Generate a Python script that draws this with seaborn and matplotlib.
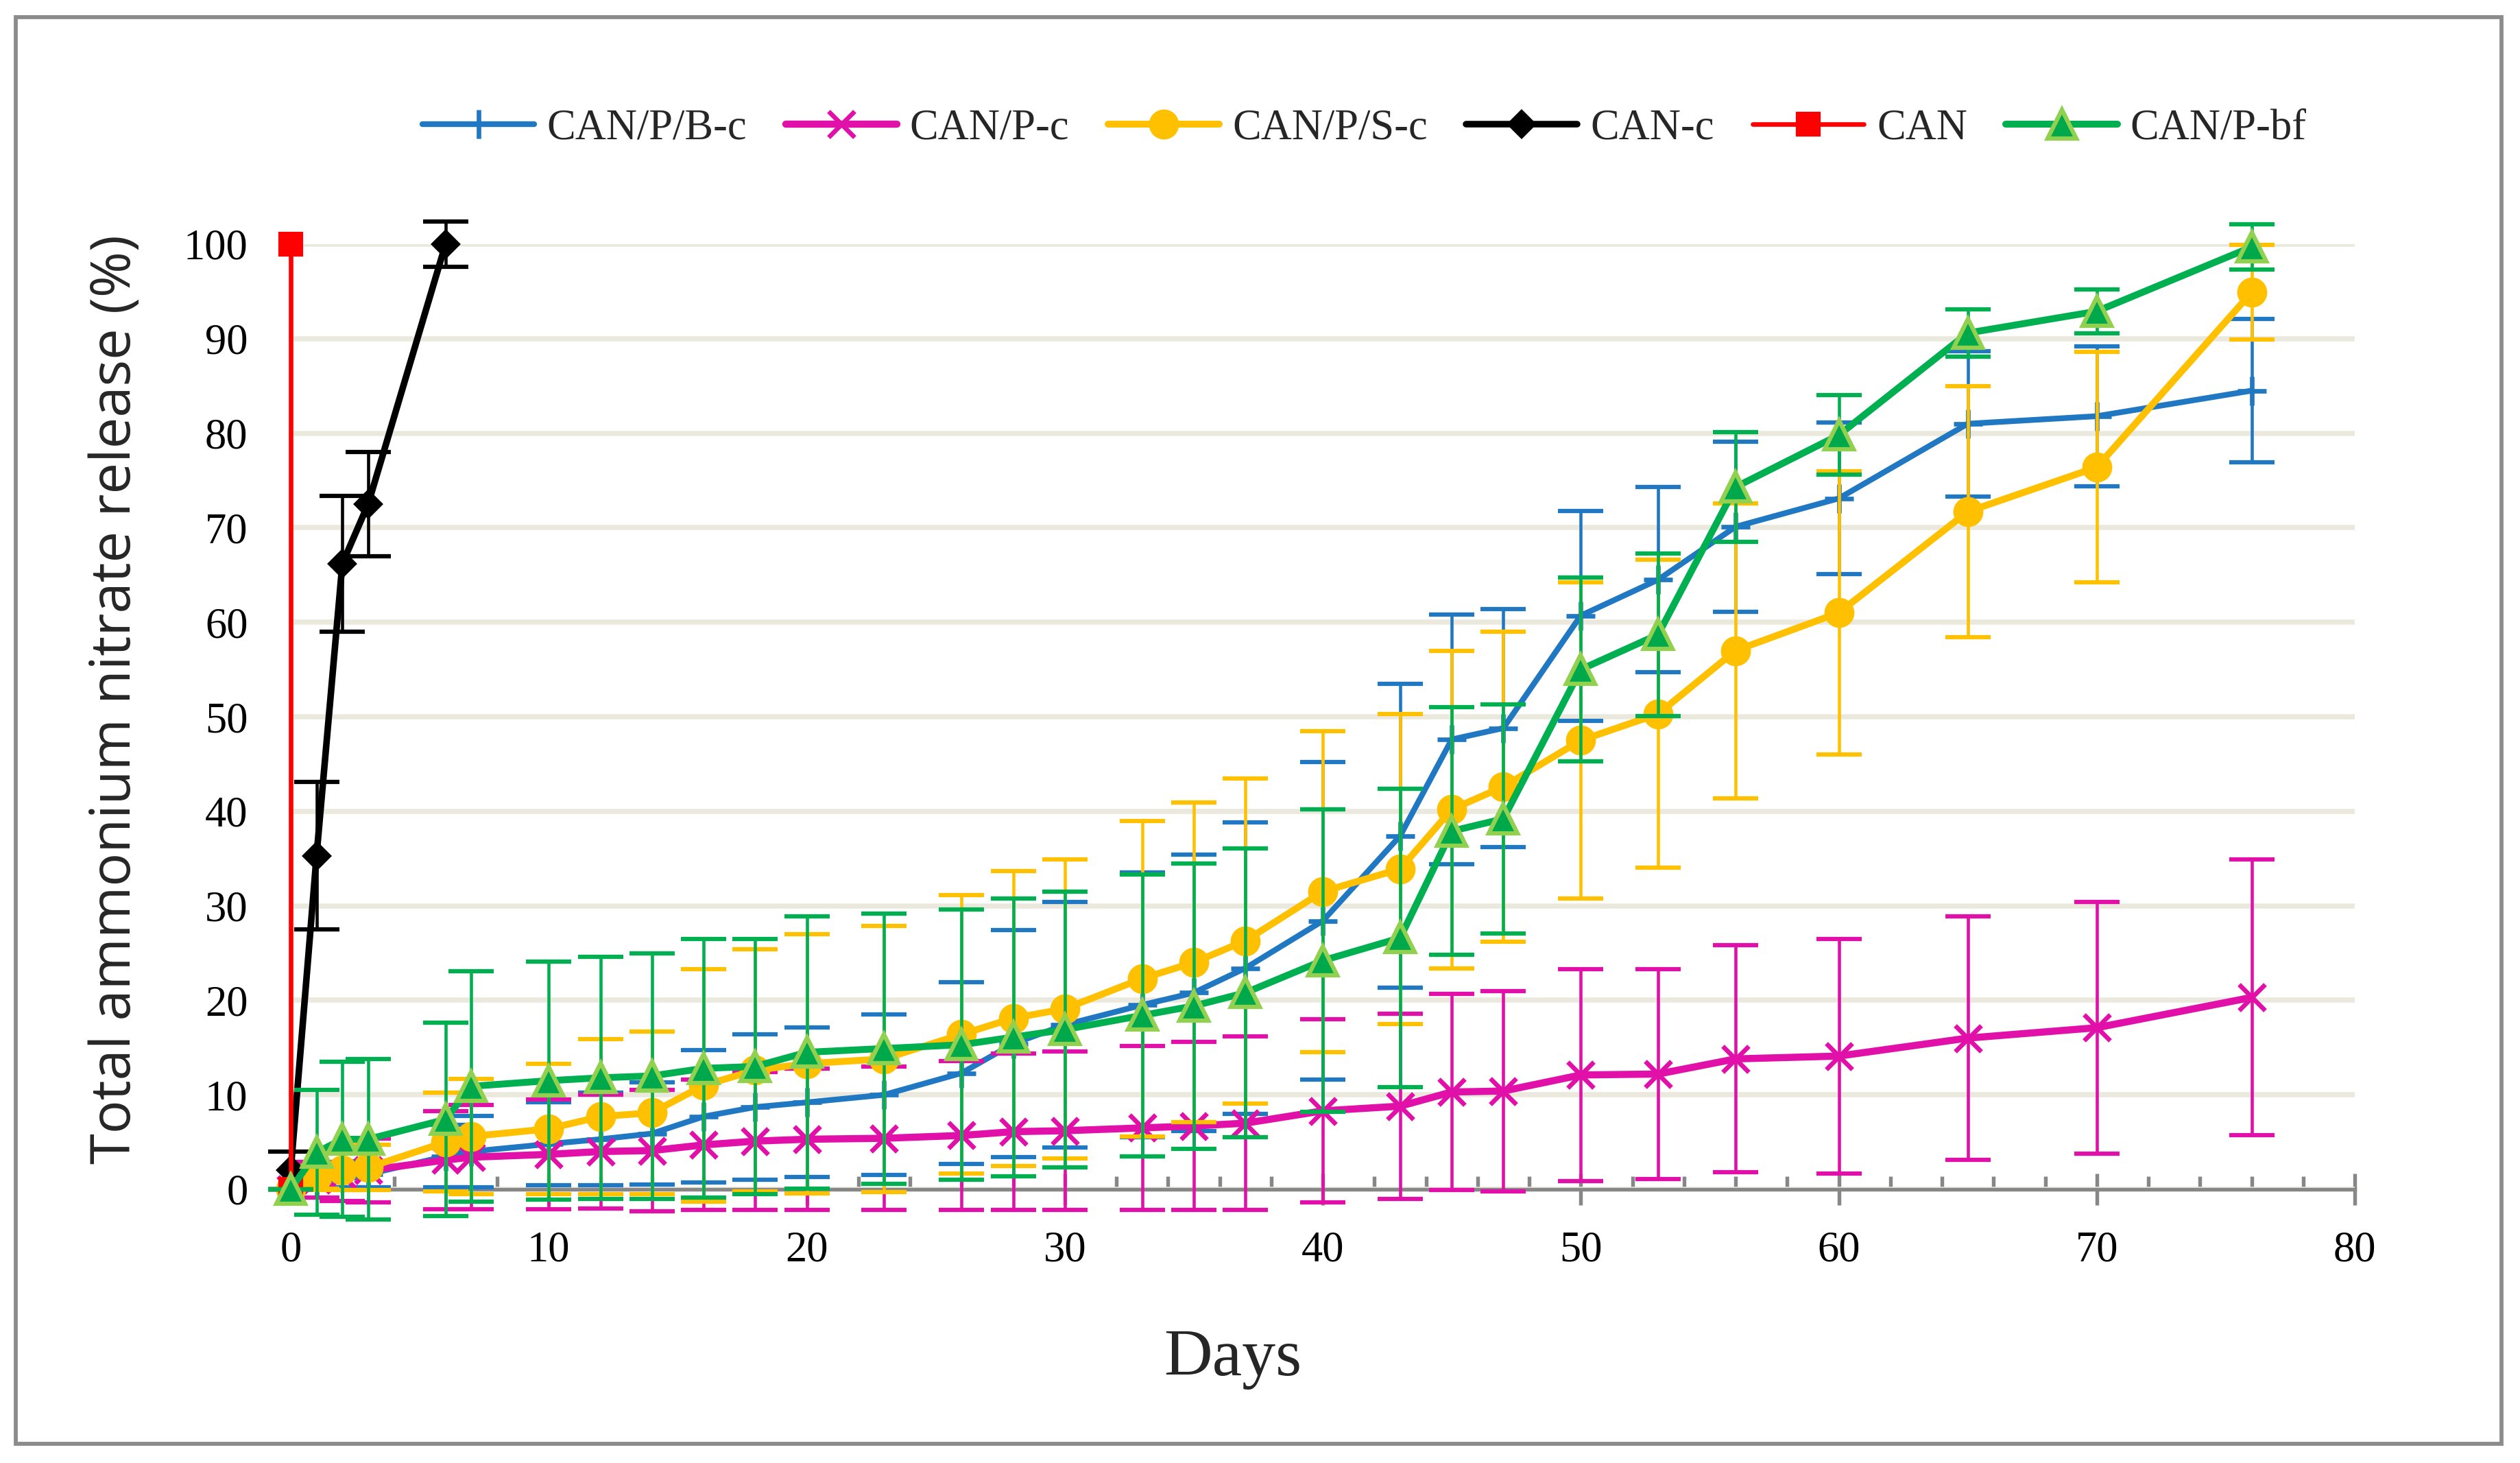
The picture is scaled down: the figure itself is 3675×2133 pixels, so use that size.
import numpy as np
import pandas as pd
import matplotlib
matplotlib.use("Agg")
import matplotlib.pyplot as plt
import seaborn as sns
from matplotlib.patches import Rectangle
from matplotlib.ticker import MultipleLocator

# ---------------- data ----------------
days = [0, 1, 2, 3, 6, 7, 10, 12, 14, 16, 18, 20, 23, 26, 28, 30, 33, 35, 37,
        40, 43, 45, 47, 50, 53, 56, 60, 65, 70, 76]

pbc_val = [0, 0.8, 1.2, 1.6, 3.5, 4.0, 4.8, 5.3, 5.9, 7.7, 8.7, 9.2, 10.0, 12.3,
           15.4, 17.4, 19.5, 20.8, 23.4, 28.4, 37.4, 47.6, 48.8, 60.7, 64.5,
           70.1, 73.1, 81.0, 81.8, 84.5]
pbc_err = [0, 0.8, 1.0, 1.4, 3.3, 3.8, 4.4, 4.9, 5.4, 7.0, 7.7, 7.9, 8.5, 9.6,
           12.0, 13.0, 14.0, 14.6, 15.4, 16.8, 16.1, 13.2, 12.6, 11.1, 9.8,
           9.0, 8.0, 7.7, 7.4, 7.6]

pc_val = [0, 1.0, 1.5, 2.0, 3.1, 3.4, 3.7, 4.0, 4.1, 4.7, 5.1, 5.3, 5.4, 5.7,
          6.1, 6.2, 6.5, 6.7, 7.0, 8.3, 8.8, 10.3, 10.4, 12.1, 12.2, 13.8,
          14.1, 16.0, 17.1, 20.3]
pc_err = [0, 1.9, 2.7, 3.4, 5.2, 5.5, 5.8, 6.0, 6.4, 6.9, 7.3, 7.5, 7.6, 7.9,
          8.3, 8.4, 8.7, 8.9, 9.2, 9.7, 9.8, 10.4, 10.6, 11.2, 11.1, 12.0,
          12.4, 12.9, 13.3, 14.6]

psc_val = [0, 1.3, 2.0, 2.3, 5.0, 5.6, 6.4, 7.7, 8.1, 11.0, 12.6, 13.3, 13.8,
           16.4, 18.1, 19.1, 22.3, 24.0, 26.3, 31.5, 33.9, 40.2, 42.6, 47.5,
           50.3, 57.0, 61.0, 71.7, 76.4, 94.9]
psc_err = [0, 1.2, 2.1, 2.4, 5.2, 6.1, 6.9, 8.2, 8.6, 12.3, 12.8, 13.7, 14.1,
           14.7, 15.6, 15.8, 16.7, 16.9, 17.2, 17.0, 16.4, 16.8, 16.4, 16.7,
           16.3, 15.6, 15.0, 13.3, 12.2, 5.0]

canc_days = [0, 1, 2, 3, 6]
canc_val = [2.0, 35.3, 66.2, 72.5, 100.0]
canc_err = [2.0, 7.8, 7.2, 5.5, 2.4]

can_days = [0, 0]
can_val = [0, 100]

pbf_val = [0, 3.9, 5.3, 5.3, 7.4, 10.9, 11.5, 11.8, 12.0, 12.8, 13.0, 14.5,
           14.9, 15.3, 16.1, 16.9, 18.4, 19.4, 20.8, 24.2, 26.6, 37.9, 39.2,
           55.0, 58.7, 74.3, 79.8, 90.6, 92.9, 99.7]
pbf_err = [0, 6.6, 8.2, 8.5, 10.2, 12.2, 12.6, 12.8, 13.0, 13.7, 13.5, 14.4,
           14.3, 14.3, 14.7, 14.6, 14.9, 15.1, 15.3, 16.0, 15.8, 13.1, 12.1,
           9.7, 8.6, 5.8, 4.2, 2.5, 2.3, 2.4]

labels = ["CAN/P/B-c", "CAN/P-c", "CAN/P/S-c", "CAN-c", "CAN", "CAN/P-bf"]
x_ticks = [0, 10, 20, 30, 40, 50, 60, 70, 80]
y_ticks = [0, 10, 20, 30, 40, 50, 60, 70, 80, 90, 100]

# ---------------- style ----------------
sns.set_theme(style="white")
plt.rcParams["font.family"] = ["Liberation Serif", "DejaVu Serif"]

W, H = 3675, 2133
fig = plt.figure(figsize=(W / 300, H / 300), dpi=300)
x0, x1, y0, y1 = 424, 3434, 356, 1734
ax = fig.add_axes([x0 / W, 1 - y1 / H, (x1 - x0) / W, (y1 - y0) / H])

series = [
    dict(label=labels[0], x=days, y=pbc_val, e=pbc_err, c="#1F78C1", m="+",
         ms=10, lw=2.0, mfc="#1F78C1", mec="#1F78C1", mew=1.6),
    dict(label=labels[1], x=days, y=pc_val, e=pc_err, c="#E010A8", m="x",
         ms=9, lw=2.5, mfc="#E010A8", mec="#E010A8", mew=1.6),
    dict(label=labels[2], x=days, y=psc_val, e=psc_err, c="#FFC000", m="o",
         ms=9.5, lw=2.4, mfc="#FFC000", mec="#FFC000", mew=1.0),
    dict(label=labels[3], x=canc_days, y=canc_val, e=canc_err, c="#000000",
         m="D", ms=6.5, lw=2.3, mfc="#000000", mec="#000000", mew=1.0),
    dict(label=labels[4], x=can_days, y=can_val, e=None, c="#FF0000", m="s",
         ms=7.5, lw=1.6, mfc="#FF0000", mec="#FF0000", mew=1.0),
    dict(label=labels[5], x=days, y=pbf_val, e=pbf_err, c="#00B050", m="^",
         ms=10, lw=2.4, mfc="#00A84C", mec="#92D050", mew=1.5),
]

for i, s in enumerate(series):
    z = 3 + i
    df = pd.DataFrame({"Days": s["x"], "Release": s["y"]})
    if s["e"] is not None:
        cont = ax.errorbar(s["x"], s["y"], yerr=s["e"], fmt="none",
                           ecolor=s["c"], elinewidth=1.1, capsize=8,
                           capthick=1.5, zorder=z)
        for art in cont.get_children():
            art.set_clip_on(False)
    sns.lineplot(data=df, x="Days", y="Release", estimator=None, sort=False,
                 ax=ax, color=s["c"], lw=s["lw"], marker=s["m"],
                 markersize=s["ms"], markerfacecolor=s["mfc"],
                 markeredgecolor=s["mec"], markeredgewidth=s["mew"],
                 label=s["label"], zorder=z + 0.5, clip_on=False)

ax.set_xlim(0, 80)
ax.set_ylim(0, 100)
ax.set_xticks(x_ticks)
ax.set_yticks(y_ticks)
ax.xaxis.set_minor_locator(MultipleLocator(2))
ax.set_xlabel("")
ax.set_ylabel("")

ax.yaxis.grid(True, color="#EBE9DD", lw=1.8)
ax.xaxis.grid(False)
ax.set_axisbelow(True)
for sp in ["left", "top", "right"]:
    ax.spines[sp].set_visible(False)
ax.spines["bottom"].set_color("#878787")
ax.spines["bottom"].set_linewidth(1.3)
ax.spines["bottom"].set_zorder(2.5)

ax.tick_params(axis="x", which="major", direction="inout", length=11,
               width=1.3, color="#878787", pad=9, labelsize=15,
               labelcolor="black", bottom=True)
ax.tick_params(axis="x", which="minor", direction="in", length=4.5,
               width=1.3, color="#878787", bottom=True)
ax.tick_params(axis="y", which="both", length=0, pad=15, labelsize=15,
               labelcolor="black")

handles, labs = ax.get_legend_handles_labels()
ax.legend(handles, labs, loc="center", bbox_to_anchor=(0.5415, 0.912),
          bbox_transform=fig.transFigure, ncol=6, frameon=False,
          fontsize=15, handlelength=2.6, handletextpad=0.3,
          columnspacing=0.9)

fig.text(169 / W, 1 - 1020 / H, "Total ammonium nitrate release (%)",
         rotation=90, ha="center", va="center", fontsize=19.5,
         family=["Open Sans", "DejaVu Sans"])
fig.text(1798 / W, 1 - 1981 / H, "Days", ha="center", va="center",
         fontsize=23.5)

fig.patches.append(Rectangle((23 / W, 1 - 2105 / H), (3648 - 23) / W,
                             (2105 - 25) / H, transform=fig.transFigure,
                             fill=False, edgecolor="#8C8C8C", lw=1.4))

fig.savefig("out.png", dpi=300, facecolor="white")
